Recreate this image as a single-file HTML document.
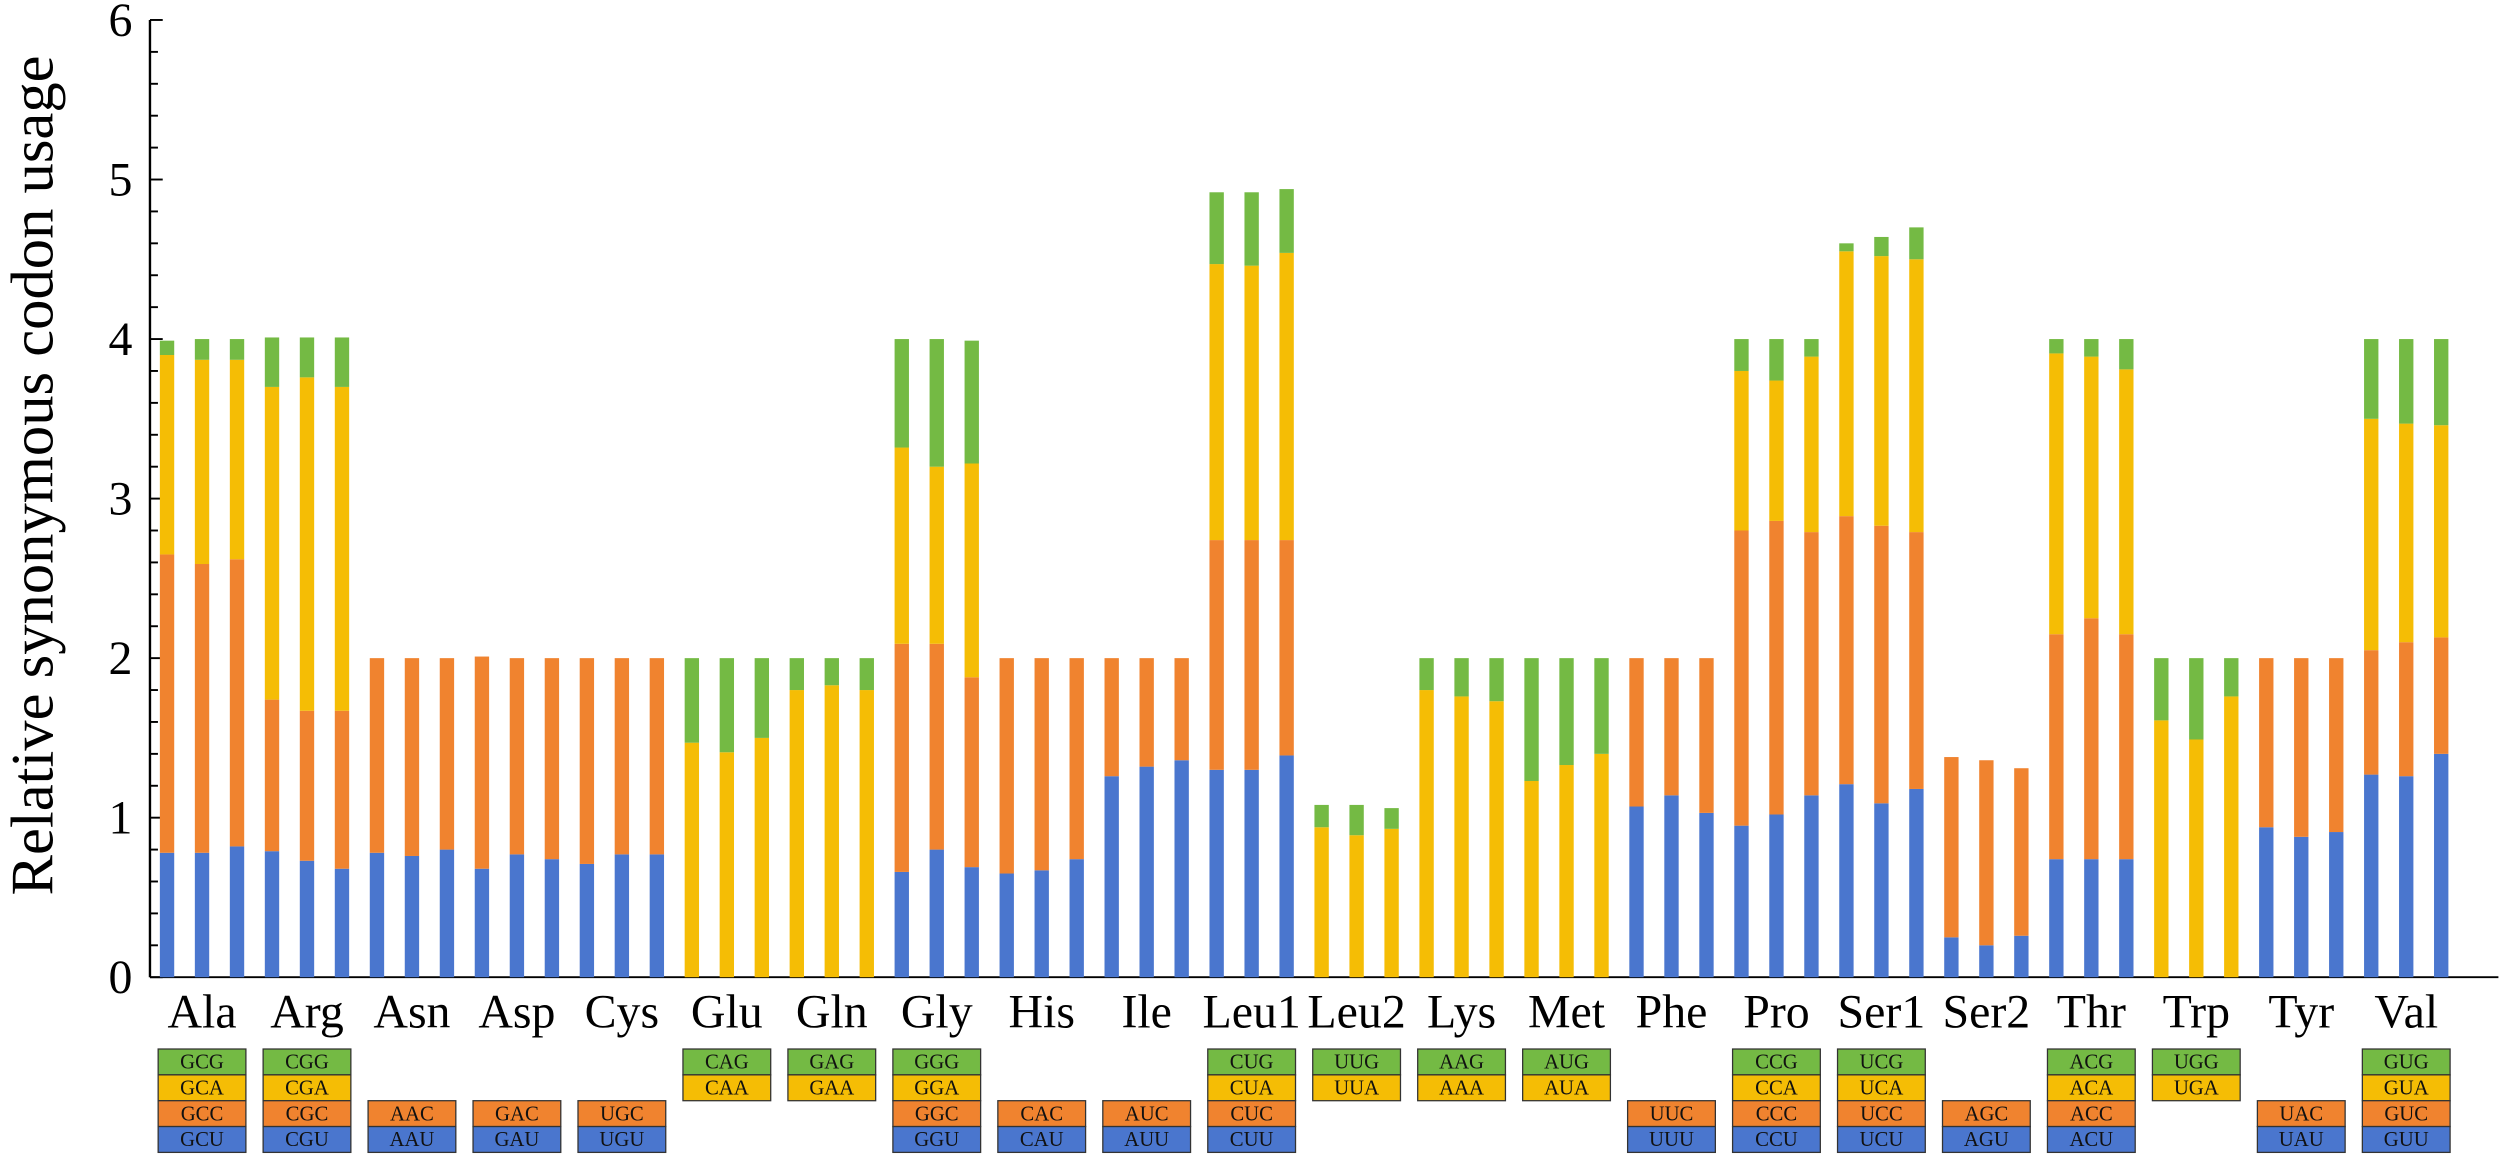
<!DOCTYPE html>
<html><head><meta charset="utf-8"><style>
html,body{margin:0;padding:0;background:#fff;}
svg{display:block;font-family:"Liberation Serif",serif;}
</style></head><body>
<svg id="chart" width="2500" height="1162" viewBox="0 0 1567 728.3" xmlns="http://www.w3.org/2000/svg">
<g id="axes"></g>
<g id="bars"></g>
<g id="codons"></g>
<text x="0" y="0" transform="translate(33,298) rotate(-90)" text-anchor="middle" font-size="38">Relative synonymous codon usage</text>
</svg>
<script>
const aminoAcids=["Ala","Arg","Asn","Asp","Cys","Glu","Gln","Gly","His","Ile","Leu1","Leu2","Lys","Met","Phe","Pro","Ser1","Ser2","Thr","Trp","Tyr","Val"];
// cumulative tops per codon type (U blue, C orange, A yellow, G green); null = absent
const topU=[[0.78,0.78,0.82],[0.79,0.73,0.68],[0.78,0.76,0.80],[0.68,0.77,0.74],[0.71,0.77,0.77],null,null,[0.66,0.80,0.69],[0.65,0.67,0.74],[1.26,1.32,1.36],[1.30,1.30,1.39],null,null,null,[1.07,1.14,1.03],[0.95,1.02,1.14],[1.21,1.09,1.18],[0.25,0.20,0.26],[0.74,0.74,0.74],null,[0.94,0.88,0.91],[1.27,1.26,1.40]];
const topC=[[2.65,2.59,2.62],[1.74,1.67,1.67],[2,2,2],[2.01,2,2],[2,2,2],null,null,[2.09,2.09,1.88],[2,2,2],[2,2,2],[2.74,2.74,2.74],null,null,null,[2,2,2],[2.80,2.86,2.79],[2.89,2.83,2.79],[1.38,1.36,1.31],[2.15,2.25,2.15],null,[2,2,2],[2.05,2.10,2.13]];
const topA=[[3.90,3.87,3.87],[3.70,3.76,3.70],null,null,null,[1.47,1.41,1.50],[1.80,1.83,1.80],[3.32,3.20,3.22],null,null,[4.47,4.46,4.54],[0.94,0.89,0.93],[1.80,1.76,1.73],[1.23,1.33,1.40],null,[3.80,3.74,3.89],[4.55,4.52,4.50],null,[3.91,3.89,3.81],[1.61,1.49,1.76],null,[3.50,3.47,3.46]];
const topG=[[3.99,4,4],[4.01,4.01,4.01],null,null,null,[2,2,2],[2,2,2],[4,4,3.99],null,null,[4.92,4.92,4.94],[1.08,1.08,1.06],[2,2,2],[2,2,2],null,[4,4,4],[4.60,4.64,4.70],null,[4,4,4],[2,2,2],null,[4,4,4]];
const codonG=["GCG","CGG",null,null,null,"CAG","GAG","GGG",null,null,"CUG","UUG","AAG","AUG",null,"CCG","UCG",null,"ACG","UGG",null,"GUG"];
const codonA=["GCA","CGA",null,null,null,"CAA","GAA","GGA",null,null,"CUA","UUA","AAA","AUA",null,"CCA","UCA",null,"ACA","UGA",null,"GUA"];
const codonC=["GCC","CGC","AAC","GAC","UGC",null,null,"GGC","CAC","AUC","CUC",null,null,null,"UUC","CCC","UCC","AGC","ACC",null,"UAC","GUC"];
const codonU=["GCU","CGU","AAU","GAU","UGU",null,null,"GGU","CAU","AUU","CUU",null,null,null,"UUU","CCU","UCU","AGU","ACU",null,"UAU","GUU"];
const yTicks=[0,1,2,3,4,5,6];

const NS="http://www.w3.org/2000/svg";
const col={U:"#4A76CE",C:"#F0832F",A:"#F5BD05",G:"#74BA44"};
const y=v=>612.5-100*v;
const bx=i=>104.7+21.93*i;
const BW=9;
function mk(tag,attrs,parent){const e=document.createElementNS(NS,tag);for(const k in attrs)e.setAttribute(k,attrs[k]);parent.appendChild(e);return e;}
const axes=document.getElementById('axes'),bars=document.getElementById('bars'),cod=document.getElementById('codons');
let a=mk('line',{x1:94,y1:y(6),x2:94,y2:y(0),stroke:'#000','stroke-width':1.5},axes);

a=mk('line',{x1:94,y1:y(0),x2:1566,y2:y(0),stroke:'#000','stroke-width':1.2},axes);

for(let t=0;t<=60;t+=2){const v=t/10;const major=t%10===0;
 const l=mk('line',{x1:94,y1:y(v),x2:major?102:99,y2:y(v),stroke:'#000','stroke-width':1.2},axes);
 }
yTicks.forEach(v=>{const t=mk('text',{x:83,y:y(v)+10,'text-anchor':'end','font-size':30},axes);t.textContent=v;
 });
aminoAcids.forEach((aa,g)=>{
 const cx=bx(g*3+1);
 const lab=mk('text',{x:cx,y:644,'text-anchor':'middle','font-size':30},axes);lab.textContent=aa;
 
 for(let k=0;k<3;k++){
  const x=bx(g*3+k)-BW/2;let prev=0;
  [['U',topU],['C',topC],['A',topA],['G',topG]].forEach(([c,arr])=>{
   if(!arr[g])return;const top=arr[g][k];
   const r=mk('rect',{x:x,y:y(top),width:BW,height:Math.max(0,y(prev)-y(top)),fill:col[c]},bars);
   
   prev=top;});
 }
 const rows=[[codonG[g],'G'],[codonA[g],'A'],[codonC[g],'C'],[codonU[g],'U']].filter(r=>r[0]);
 const h=16.2,w=55,bxl=cx-w/2;
 let top0= rows.length===4?657.5:(codonU[g]?689.9:657.5);
 rows.forEach((r,i)=>{
  const yy=top0+i*h;
  const rc=mk('rect',{x:bxl,y:yy,width:w,height:h,fill:col[r[1]],stroke:'#333','stroke-width':0.8},cod);
  
  const tx=mk('text',{x:cx,y:yy+12.3,'text-anchor':'middle','font-size':13,fill:'#111'},cod);tx.textContent=r[0];
  
 });
});
</script>
</body></html>
